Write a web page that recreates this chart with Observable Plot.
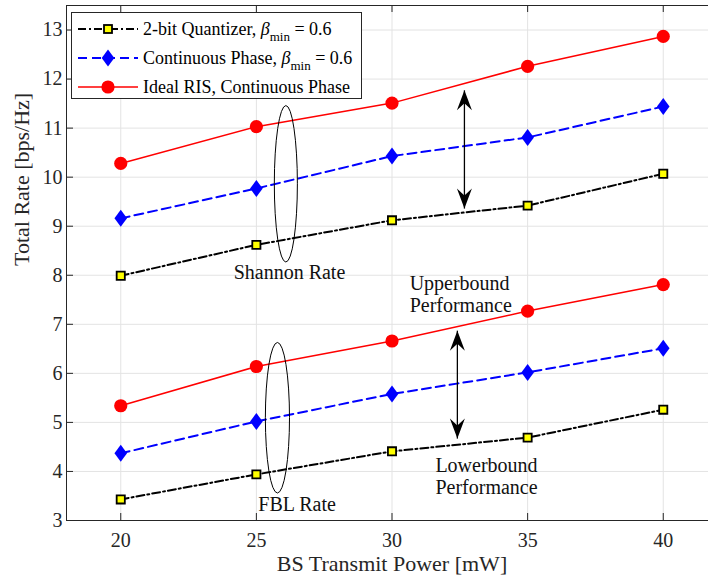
<!DOCTYPE html>
<html>
<head>
<meta charset="utf-8">
<script src="https://cdn.jsdelivr.net/npm/d3@7"></script>
<script src="https://cdn.jsdelivr.net/npm/@observablehq/plot@0.6"></script>
<style>
  html, body { margin: 0; padding: 0; background: #fff; overflow: hidden; }
  #wrap { position: relative; width: 708px; height: 577px; overflow: hidden; font-family: "Liberation Serif", "Times New Roman", serif; }
  #chart svg { max-width: none !important; font-family: "Liberation Serif", "Times New Roman", serif !important; }
  #chart svg text { font-family: "Liberation Serif", "Times New Roman", serif !important; }
  #legend { position: absolute; left: 71px; top: 12px; width: 291px; height: 87px; border: 1px solid #262626; background: #fff; box-sizing: border-box; }
  .row { position: absolute; left: 5px; height: 20px; display: flex; align-items: center; white-space: nowrap; font-size: 18px; color: #000; }
  .row span { margin-left: 4px; }
  .row sub { font-size: 13px; vertical-align: -6px; line-height: 0; }
</style>
</head>
<body>
<div id="wrap">
  <div id="chart"></div>
  <div id="legend"></div>
</div>
<script>
// ---- data ----
const power = [20, 25, 30, 35, 40];
const shannonQuant = [7.99, 8.62, 9.12, 9.42, 10.07];
const shannonCont  = [9.16, 9.77, 10.43, 10.81, 11.44];
const shannonIdeal = [10.28, 11.03, 11.51, 12.26, 12.87];
const fblQuant = [3.43, 3.94, 4.41, 4.69, 5.26];
const fblCont  = [4.37, 5.02, 5.58, 6.02, 6.51];
const fblIdeal = [5.34, 6.14, 6.66, 7.27, 7.81];

const xTicks = [20, 25, 30, 35, 40];
const yTicks = [3, 4, 5, 6, 7, 8, 9, 10, 11, 12, 13];

const seriesNames = ["2-bit Quantizer", "Continuous Phase", "Ideal RIS, Continuous Phase"];

// annotations
const ellipses = [
  {name: "Shannon", x1: 25.68, x2: 26.53, y1: 8.26, y2: 11.45},
  {name: "FBL", x1: 25.35, x2: 26.24, y1: 3.55, y2: 6.62}
];
const arrows = [
  {x: 32.67, top: 11.77, bottom: 9.36},
  {x: 32.41, top: 6.87, bottom: 4.67}
];
const centeredNotes = [
  {x: 26.22, y: 8.06, text: "Shannon Rate"},
  {x: 26.5, y: 3.33, text: "FBL Rate"}
];
const leftNotes = [
  {x: 30.65, y: 7.62, text: "Upperbound\nPerformance"},
  {x: 31.6, y: 3.90, text: "Lowerbound\nPerformance"}
];

// ---- styles ----
const FONT = "Liberation Serif";
const styles = [
  {stroke: "#000000", dash: "8,3,2,3", width: 2, marker: "square"},
  {stroke: "#0000ff", dash: "9,5", width: 2, marker: "diamond"},
  {stroke: "#ff0000", dash: null, width: 1.5, marker: "circle"}
];

const rows = [];
const groups = [[shannonQuant, shannonCont, shannonIdeal], [fblQuant, fblCont, fblIdeal]];
groups.forEach((g, gi) => g.forEach((vals, si) => vals.forEach((v, i) =>
  rows.push({power: power[i], rate: v, series: si, group: gi}))));

const diamond = {
  draw(ctx, size) {
    const r = Math.sqrt(size / Math.PI);
    ctx.moveTo(0, -r); ctx.lineTo(r * 0.74, 0); ctx.lineTo(0, r); ctx.lineTo(-r * 0.74, 0); ctx.closePath();
  }
};
const headUp = { draw(ctx) { ctx.moveTo(0, 0); ctx.lineTo(-7.5, 20); ctx.lineTo(0, 13); ctx.lineTo(7.5, 20); ctx.closePath(); } };
const headDown = { draw(ctx) { ctx.moveTo(0, 0); ctx.lineTo(-7.5, -20); ctx.lineTo(0, -13); ctx.lineTo(7.5, -20); ctx.closePath(); } };

const lineMarks = [];
[0, 1, 2].forEach(si => {
  const st = styles[si];
  const data = rows.filter(d => d.series === si);
  lineMarks.push(Plot.line(data, {x: "power", y: "rate", z: "group", stroke: st.stroke, strokeWidth: st.width, strokeDasharray: st.dash}));
});
const dotMarks = [
  Plot.dot(rows.filter(d => d.series === 0), {x: "power", y: "rate", symbol: "square", r: 4.6, fill: "#ffff00", stroke: "#000", strokeWidth: 1.8}),
  Plot.dot(rows.filter(d => d.series === 1), {x: "power", y: "rate", symbol: diamond, r: 8.5, fill: "#0000ff", stroke: "none"}),
  Plot.dot(rows.filter(d => d.series === 2), {x: "power", y: "rate", symbol: "circle", r: 6.6, fill: "#ff0000", stroke: "none"})
];

const plotW = 720, mL = 66, mR = 3, mT = 5, mB = 57, H = 577;
const innerW = plotW - mL - mR, innerH = H - mT - mB;
const tickLen = 7;

const chart = Plot.plot({
  width: plotW, height: H,
  marginLeft: mL, marginRight: mR, marginTop: mT, marginBottom: mB,
  x: {domain: [18, 42]},
  y: {domain: [3, 13.5]},
  style: `font-family: "${FONT}", serif; font-size: 20px; color: #262626; background: #fff; max-width: none;`,
  marks: [
    Plot.gridX(xTicks, {stroke: "#e3e3e3", strokeOpacity: 1}),
    Plot.gridY(yTicks, {stroke: "#e3e3e3", strokeOpacity: 1}),
    Plot.tickX(xTicks, {x: d => d, insetTop: innerH - tickLen, stroke: "#262626"}),
    Plot.tickX(xTicks, {x: d => d, insetBottom: innerH - tickLen, stroke: "#262626"}),
    Plot.tickY(yTicks, {y: d => d, insetRight: innerW - tickLen, stroke: "#262626"}),
    Plot.frame({stroke: "#262626", strokeWidth: 1}),
    Plot.axisX(xTicks, {tickSize: 0, tickPadding: 12, label: null, fontSize: 20, fontFamily: FONT, fill: "#262626"}),
    Plot.axisY(yTicks, {tickSize: 0, tickPadding: 4, label: null, fontSize: 20, fontFamily: FONT, fill: "#262626"}),
    Plot.text(["BS Transmit Power [mW]"], {frameAnchor: "bottom", dy: 50, fontSize: 22, fontFamily: FONT, fill: "#262626"}),
    Plot.text(["Total Rate [bps/Hz]"], {frameAnchor: "left", dx: -45, dy: 3, rotate: -90, fontSize: 22, fontFamily: FONT, fill: "#262626"}),
    ...lineMarks,
    ...dotMarks,
    Plot.rect(ellipses, {x1: "x1", x2: "x2", y1: "y1", y2: "y2", rx: 200, ry: 400, fill: "none", stroke: "#000", strokeWidth: 1}),
    Plot.link(arrows, {x1: "x", x2: "x", y1: "top", y2: "bottom", stroke: "#000", strokeWidth: 1.3}),
    Plot.dot(arrows, {x: "x", y: "top", symbol: headUp, fill: "#000", stroke: "none"}),
    Plot.dot(arrows, {x: "x", y: "bottom", symbol: headDown, fill: "#000", stroke: "none"}),
    Plot.text(centeredNotes, {x: "x", y: "y", text: "text", textAnchor: "middle", fontSize: 20, fontFamily: FONT, fill: "#111"}),
    Plot.text(leftNotes, {x: "x", y: "y", text: "text", textAnchor: "start", fontSize: 20, fontFamily: FONT, lineHeight: 1.08, fill: "#111"})
  ]
});
chart.style.maxWidth = "none";
chart.style.width = plotW + "px";
document.getElementById("chart").appendChild(chart);

// ---- legend ----
const legend = document.getElementById("legend");
const suffix = [true, true, false];
[0, 1, 2].forEach(si => {
  const st = styles[si];
  const row = document.createElement("div");
  row.className = "row";
  row.style.top = (6 + si * 29) + "px";
  const ns = "http://www.w3.org/2000/svg";
  const svg = document.createElementNS(ns, "svg");
  svg.setAttribute("width", 62); svg.setAttribute("height", 20);
  const ln = document.createElementNS(ns, "line");
  ln.setAttribute("x1", 1); ln.setAttribute("x2", 61); ln.setAttribute("y1", 10); ln.setAttribute("y2", 10);
  ln.setAttribute("stroke", st.stroke); ln.setAttribute("stroke-width", st.width);
  if (st.dash) ln.setAttribute("stroke-dasharray", st.dash);
  svg.appendChild(ln);
  let mk;
  if (st.marker === "square") {
    mk = document.createElementNS(ns, "rect");
    mk.setAttribute("x", 27); mk.setAttribute("y", 6); mk.setAttribute("width", 8); mk.setAttribute("height", 8);
    mk.setAttribute("fill", "#ffff00"); mk.setAttribute("stroke", "#000"); mk.setAttribute("stroke-width", 1.8);
  } else if (st.marker === "diamond") {
    mk = document.createElementNS(ns, "path");
    mk.setAttribute("d", "M31,1.5L37.3,10L31,18.5L24.7,10Z"); mk.setAttribute("fill", "#0000ff");
  } else {
    mk = document.createElementNS(ns, "circle");
    mk.setAttribute("cx", 31); mk.setAttribute("cy", 10); mk.setAttribute("r", 6.6); mk.setAttribute("fill", "#ff0000");
  }
  svg.appendChild(mk);
  row.appendChild(svg);
  const span = document.createElement("span");
  span.innerHTML = seriesNames[si] + (suffix[si] ? ", <i>β</i><sub>min</sub> = 0.6" : "");
  row.appendChild(span);
  legend.appendChild(row);
});
</script>
</body>
</html>
